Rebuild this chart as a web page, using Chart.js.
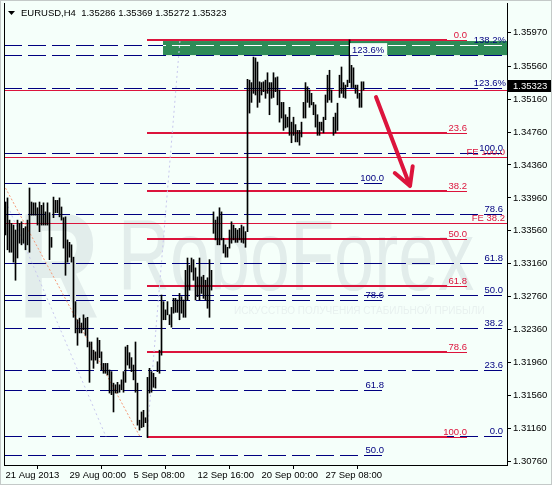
<!DOCTYPE html>
<html>
<head>
<meta charset="utf-8">
<script src="https://cdn.jsdelivr.net/npm/chart.js@4.4.1/dist/chart.umd.min.js"></script>
<style>
  html, body { margin: 0; padding: 0; background: #f5fffa; }
  canvas { display: block; }
</style>
</head>
<body>
<canvas id="eurusd" width="552" height="485"></canvas>
<script>
// EURUSD H4 bars (index 0 = 21 Aug 2013)
const barHigh = [
    1.3391, 1.3396, 1.3369, 1.3365, 1.3363, 1.3357, 1.3369, 1.3365, 1.3367, 1.3359,
    1.3361, 1.3369, 1.3408, 1.3391, 1.3390, 1.3390, 1.3384, 1.3391, 1.3387, 1.3390,
    1.3379, 1.3390, 1.3378, 1.3348, 1.3397, 1.3393, 1.3393, 1.3396, 1.3385, 1.3372,
    1.3373, 1.3345, 1.3342, 1.3339, 1.3324, 1.3270, 1.3248, 1.3250, 1.3244, 1.3254,
    1.3250, 1.3251, 1.3221, 1.3221, 1.3211, 1.3209, 1.3226, 1.3223, 1.3209, 1.3195,
    1.3195, 1.3195, 1.3187, 1.3185, 1.3171, 1.3169, 1.3172, 1.3169, 1.3175, 1.3185,
    1.3215, 1.3217, 1.3208, 1.3202, 1.3193, 1.3221, 1.3171, 1.3126, 1.3136, 1.3138,
    1.3129, 1.3178, 1.3189, 1.3185, 1.3183, 1.3178, 1.3197, 1.3211, 1.3278, 1.3270,
    1.3260, 1.3270, 1.3254, 1.3263, 1.3274, 1.3274, 1.3272, 1.3280, 1.3276, 1.3272,
    1.3308, 1.3323, 1.3314, 1.3323, 1.3321, 1.3311, 1.3300, 1.3323, 1.3300, 1.3302,
    1.3296, 1.3299, 1.3321, 1.3308, 1.3379, 1.3369, 1.3373, 1.3384, 1.3379, 1.3347,
    1.3339, 1.3336, 1.3357, 1.3367, 1.3363, 1.3359, 1.3357, 1.3359, 1.3363, 1.3361,
    1.3355, 1.3540, 1.3539, 1.3536, 1.3567, 1.3566, 1.3561, 1.3537, 1.3536, 1.3537,
    1.3539, 1.3548, 1.3536, 1.3536, 1.3548, 1.3542, 1.3543, 1.3527, 1.3512, 1.3512,
    1.3497, 1.3494, 1.3506, 1.3488, 1.3494, 1.3485, 1.3478, 1.3478, 1.3488, 1.3512,
    1.3536, 1.3531, 1.3527, 1.3523, 1.3512, 1.3509, 1.3497, 1.3488, 1.3488, 1.3494,
    1.3521, 1.3545, 1.3551, 1.3527, 1.3494, 1.3499, 1.3511, 1.3545, 1.3555, 1.3536,
    1.3533, 1.3539, 1.3588, 1.3557, 1.3554, 1.3533, 1.3533, 1.3523, 1.3537, 1.3537
];
const barLow = [
    1.3351, 1.3333, 1.3330, 1.3330, 1.3318, 1.3296, 1.3323, 1.3341, 1.3339, 1.3341,
    1.3333, 1.3339, 1.3330, 1.3375, 1.3375, 1.3375, 1.3363, 1.3355, 1.3363, 1.3363,
    1.3363, 1.3363, 1.3321, 1.3336, 1.3372, 1.3378, 1.3378, 1.3373, 1.3369, 1.3335,
    1.3302, 1.3318, 1.3324, 1.3318, 1.3251, 1.3232, 1.3217, 1.3232, 1.3232, 1.3236,
    1.3229, 1.3215, 1.3172, 1.3199, 1.3189, 1.3199, 1.3195, 1.3202, 1.3187, 1.3183,
    1.3183, 1.3181, 1.3159, 1.3157, 1.3136, 1.3159, 1.3159, 1.3160, 1.3163, 1.3160,
    1.3172, 1.3193, 1.3189, 1.3185, 1.3175, 1.3160, 1.3120, 1.3114, 1.3117, 1.3118,
    1.3123, 1.3105, 1.3159, 1.3160, 1.3166, 1.3165, 1.3185, 1.3183, 1.3205, 1.3248,
    1.3248, 1.3254, 1.3242, 1.3239, 1.3256, 1.3257, 1.3257, 1.3248, 1.3256, 1.3251,
    1.3251, 1.3272, 1.3284, 1.3306, 1.3296, 1.3272, 1.3276, 1.3272, 1.3280, 1.3274,
    1.3272, 1.3262, 1.3251, 1.3284, 1.3353, 1.3345, 1.3339, 1.3339, 1.3345, 1.3329,
    1.3324, 1.3324, 1.3335, 1.3341, 1.3345, 1.3342, 1.3342, 1.3345, 1.3342, 1.3341,
    1.3336, 1.3355, 1.3499, 1.3512, 1.3523, 1.3521, 1.3506, 1.3512, 1.3521, 1.3525,
    1.3517, 1.3523, 1.3497, 1.3517, 1.3518, 1.3525, 1.3509, 1.3488, 1.3493, 1.3478,
    1.3481, 1.3482, 1.3472, 1.3463, 1.3472, 1.3464, 1.3464, 1.3460, 1.3470, 1.3493,
    1.3493, 1.3512, 1.3506, 1.3509, 1.3497, 1.3482, 1.3472, 1.3472, 1.3478, 1.3475,
    1.3491, 1.3512, 1.3515, 1.3512, 1.3472, 1.3475, 1.3478, 1.3518, 1.3523, 1.3518,
    1.3517, 1.3531, 1.3536, 1.3530, 1.3530, 1.3523, 1.3517, 1.3506, 1.3506, 1.3527
];
const lastBar = { open: 1.35286, high: 1.35369, low: 1.35272, close: 1.35323 };

const timeTicks = [0, 32, 64, 96, 128, 160];
const timeLabels = ["21 Aug 2013", "29 Aug 00:00", "5 Sep 08:00", "12 Sep 16:00", "20 Sep 00:00", "27 Sep 08:00"];
const priceTicks = [1.3076, 1.3116, 1.3156, 1.3196, 1.3236, 1.3276, 1.3316, 1.3356,
                    1.3396, 1.3436, 1.3476, 1.3516, 1.3556, 1.3597];

// red fibo retracement
const retrNames = ["0.0", "23.6", "38.2", "50.0", "61.8", "78.6", "100.0"];
const retrPrices = [1.35877, 1.34748, 1.34043, 1.33466, 1.32895, 1.32087, 1.31055];
// blue fibo, full width
const fiboANames = ["100.0", "78.6", "61.8", "50.0", "38.2", "23.6", "0.0"];
const fiboAPrices = [1.34505, 1.33770, 1.33172, 1.32780, 1.32379, 1.31875, 1.31067];
// blue fibo, shorter
const fiboBNames = ["100.0", "78.6", "61.8", "50.0"];
const fiboBPrices = [1.34140, 1.32723, 1.31626, 1.30837];
// expansion levels with %
const expNames = ["138.2%", "123.6%"];
const expPrices = [1.35816, 1.35300];
const boxName = "123.6%";
const boxPrice = 1.35694;
// thin red FE lines
const feNames = ["", "FE 100.0", "FE 38.2"];
const fePrices = [1.35270, 1.34462, 1.33654];
// target zone
const zoneTop = 1.35865;
const zoneBottom = 1.35694;

// tool anchors on the bar index axis
const retrStart = 70.75, retrEnd = 220.75, retrLabelEnd = 230.75;
const fiboAEnd = 248.75, fiboBEnd = 189.25, expEnd = 250.25;
const zoneStart = 78.75, boxStart = 172.25;
const orangeLine = [{ x: 0, y: 1.3408 }, { x: 67.25, y: 1.3106 }];
const lilacLine1 = [{ x: 70.75, y: 1.3106 }, { x: 87.25, y: 1.3588 }];
const lilacLine2 = [{ x: -0.75, y: 1.3397 }, { x: 50.25, y: 1.3106 }];
const arrowFrom = { x: 185.25, y: 1.35185 };
const arrowTo = { x: 202.25, y: 1.34104 };

const NAVY = "#000080";
const RED = "#dc143c";
const BG = "#f5fffa";
const FONT = '9.5px "Liberation Sans", Arial, sans-serif';

function hline(c, x0, x1, py, color, width, dash) {
    c.save();
    c.strokeStyle = color;
    c.lineWidth = width;
    c.setLineDash(dash || []);
    const yy = width % 2 ? Math.round(py) + 0.5 : Math.round(py);
    c.beginPath();
    c.moveTo(x0, yy);
    c.lineTo(x1, yy);
    c.stroke();
    c.restore();
}

function label(c, text, xRight, py, color, withBg) {
    c.save();
    c.font = FONT;
    c.textAlign = "right";
    c.textBaseline = "alphabetic";
    if (withBg) {
        c.fillStyle = BG;
        c.fillRect(xRight - c.measureText(text).width - 1, Math.round(py) - 11, c.measureText(text).width + 1, 9);
    }
    c.fillStyle = color;
    c.fillText(text, xRight, Math.round(py) - 2);
    c.restore();
}

const drawings = {
    id: "drawings",
    beforeDraw(chart) {
        const c = chart.ctx;
        c.save();
        c.fillStyle = BG;
        c.fillRect(0, 0, chart.width, chart.height);
        c.restore();
    },
    beforeDatasetsDraw(chart) {
        const { ctx: c, chartArea: a, scales: { x, y } } = chart;
        c.save();
        c.beginPath();
        c.rect(a.left, a.top, a.right - a.left, a.bottom - a.top);
        c.clip();

        // watermark
        c.fillStyle = "#e2edeb";
        c.save();
        c.translate(118, 290);
        c.scale(0.72, 1);
        c.font = '100px "Liberation Sans", Arial, sans-serif';
        c.fillText("RoboForex", 0, 0);
        c.restore();
        c.save();
        c.translate(18, 317);
        c.scale(0.75, 1);
        c.font = 'bold 150px "Liberation Sans", Arial, sans-serif';
        c.fillText("R", 0, 0);
        c.restore();
        c.font = '10px "Liberation Sans", Arial, sans-serif';
        c.fillStyle = "#e8f1ef";
        c.fillText("ИСКУССТВО ПОЛУЧЕНИЯ СТАБИЛЬНОЙ ПРИБЫЛИ", 234, 314);

        // green zone
        const zx = x.getPixelForValue(zoneStart);
        const zt = y.getPixelForValue(zoneTop), zb = y.getPixelForValue(zoneBottom);
        c.fillStyle = "#2e8b57";
        c.fillRect(zx, zt, a.right - zx, zb - zt);

        // blue dashed sets
        const dash = [18, 6];
        fiboAPrices.forEach(p => hline(c, a.left, x.getPixelForValue(fiboAEnd), y.getPixelForValue(p), NAVY, 1, dash));
        fiboBPrices.forEach(p => hline(c, a.left, x.getPixelForValue(fiboBEnd), y.getPixelForValue(p), NAVY, 1, dash));
        expPrices.forEach(p => {
            const py = y.getPixelForValue(p);
            hline(c, a.left, x.getPixelForValue(expEnd), py, NAVY, 1, dash);
            if (py > zt && py < zb) {
                c.save();
                c.beginPath();
                c.rect(zx, zt, a.right - zx, zb - zt);
                c.clip();
                hline(c, a.left, x.getPixelForValue(expEnd), py, "#ffffff", 1, dash);
                c.restore();
            }
        });
        hline(c, a.left, a.right, y.getPixelForValue(boxPrice), NAVY, 1, dash);

        // thin red FE lines
        fePrices.forEach(p => hline(c, a.left, a.right, y.getPixelForValue(p), RED, 1));

        // red retracement
        const rx0 = x.getPixelForValue(retrStart), rx1 = x.getPixelForValue(retrEnd), rx2 = x.getPixelForValue(retrLabelEnd);
        retrPrices.forEach(p => {
            const py = y.getPixelForValue(p);
            hline(c, rx0, rx1, py, RED, 2);
            hline(c, rx1, rx2, py, RED, 1);
        });
        c.restore();
    },
    afterDatasetsDraw(chart) {
        const { ctx: c, chartArea: a, scales: { x, y } } = chart;

        // level labels
        retrPrices.forEach((p, k) => label(c, retrNames[k], x.getPixelForValue(retrLabelEnd), y.getPixelForValue(p), RED));
        fePrices.forEach((p, k) => label(c, feNames[k], a.right - 2, y.getPixelForValue(p), RED));
        fiboAPrices.forEach((p, k) => label(c, fiboANames[k], x.getPixelForValue(fiboAEnd), y.getPixelForValue(p), NAVY, true));
        fiboBPrices.forEach((p, k) => label(c, fiboBNames[k], x.getPixelForValue(fiboBEnd), y.getPixelForValue(p), NAVY));
        expPrices.forEach((p, k) => label(c, expNames[k], a.right - 1, y.getPixelForValue(p), NAVY));

        // boxed label on the zone
        const bx = x.getPixelForValue(boxStart), by = y.getPixelForValue(boxPrice);
        c.save();
        c.font = FONT;
        c.fillStyle = BG;
        c.fillRect(bx, by - 12, c.measureText(boxName).width + 5, 12);
        c.fillStyle = NAVY;
        c.fillText(boxName, bx + 2, Math.round(by) - 2);
        c.restore();

        // arrow
        const ax = x.getPixelForValue(arrowFrom.x), ay = y.getPixelForValue(arrowFrom.y);
        const tx = x.getPixelForValue(arrowTo.x), ty = y.getPixelForValue(arrowTo.y);
        const ang = Math.atan2(ty - ay, tx - ax);
        c.save();
        c.strokeStyle = RED;
        c.lineWidth = 4;
        c.lineCap = "round";
        c.beginPath();
        c.moveTo(ax, ay);
        c.lineTo(tx, ty);
        [-0.5, 0.5].forEach(d => {
            c.moveTo(tx, ty);
            c.lineTo(tx - 20 * Math.cos(ang + d), ty - 20 * Math.sin(ang + d));
        });
        c.stroke();
        c.restore();

        // frame left edge
        c.save();
        c.strokeStyle = "#000";
        c.lineWidth = 1;
        c.beginPath();
        c.moveTo(a.left + 0.5, a.top);
        c.lineTo(a.left + 0.5, a.bottom);
        c.stroke();

        // current price box
        const cy = y.getPixelForValue(lastBar.close);
        c.fillStyle = "#000";
        c.fillRect(a.right + 1, Math.round(cy) - 6, chart.width - a.right - 1, 12);
        c.font = FONT;
        c.fillStyle = "#fff";
        c.textBaseline = "middle";
        c.fillText(lastBar.close.toFixed(5), a.right + 6, Math.round(cy));

        // title
        c.fillStyle = "#000";
        c.beginPath();
        c.moveTo(8, 11);
        c.lineTo(15, 11);
        c.lineTo(11.5, 15);
        c.closePath();
        c.fill();
        c.fillText("EURUSD,H4  " + [lastBar.open, lastBar.high, lastBar.low, lastBar.close].map(v => v.toFixed(5)).join(" "), 21, 13);

        // outer border
        c.strokeStyle = "#c4c9c8";
        c.strokeRect(0.5, 0.5, chart.width - 1, chart.height - 1);
        c.restore();
    }
};

const canvas = document.getElementById("eurusd");
const chart = new Chart(canvas, {
    type: "bar",
    data: {
        datasets: [{
            type: "bar",
            label: "EURUSD",
            data: barHigh.map((h, i) => ({ x: i, y: [barLow[i], h] })),
            backgroundColor: "#000",
            borderWidth: 0,
            barThickness: 1,
            grouped: false,
            order: 0
        }, {
            type: "line",
            data: orangeLine,
            borderColor: "#f59a78",
            borderWidth: 1,
            borderDash: [2, 2],
            pointRadius: 0,
            order: 1
        }, {
            type: "line",
            data: lilacLine1,
            borderColor: "#c8c8ee",
            borderWidth: 1,
            borderDash: [2, 3],
            pointRadius: 0,
            order: 1
        }, {
            type: "line",
            data: lilacLine2,
            borderColor: "#c8c8ee",
            borderWidth: 1,
            borderDash: [2, 3],
            pointRadius: 0,
            order: 1
        }]
    },
    options: {
        responsive: false,
        animation: false,
        devicePixelRatio: 1,
        layout: { padding: { left: 4, top: 3, right: 0, bottom: 0 } },
        plugins: { legend: { display: false }, tooltip: { enabled: false } },
        scales: {
            x: {
                type: "linear",
                min: -0.75,
                max: 250.75,
                offset: false,
                afterBuildTicks: s => { s.ticks = timeTicks.map(v => ({ value: v })); },
                afterFit: s => { s.height = 20; s.paddingLeft = 0; s.paddingRight = 0; },
                grid: { drawOnChartArea: false, drawTicks: true, tickLength: 4, color: "#000" },
                border: { display: true, color: "#000", width: 1 },
                ticks: {
                    autoSkip: false,
                    maxRotation: 0,
                    align: "start",
                    padding: 1,
                    color: "#000",
                    font: { family: "Liberation Sans", size: 9.5 },
                    callback: v => {
                        const k = timeTicks.indexOf(v);
                        return k >= 0 ? timeLabels[k] : "";
                    }
                }
            },
            y: {
                position: "right",
                min: 1.30716,
                max: 1.36327,
                afterBuildTicks: s => { s.ticks = priceTicks.map(v => ({ value: v })); },
                afterFit: s => { s.width = 45; s.paddingTop = 0; s.paddingBottom = 0; },
                grid: { drawOnChartArea: false, drawTicks: true, tickLength: 4, color: "#000" },
                border: { display: true, color: "#000", width: 1 },
                ticks: {
                    autoSkip: false,
                    padding: 2,
                    color: "#000",
                    font: { family: "Liberation Sans", size: 9.5 },
                    callback: v => v.toFixed(5)
                }
            }
        }
    },
    plugins: [drawings]
});
</script>
</body>
</html>
